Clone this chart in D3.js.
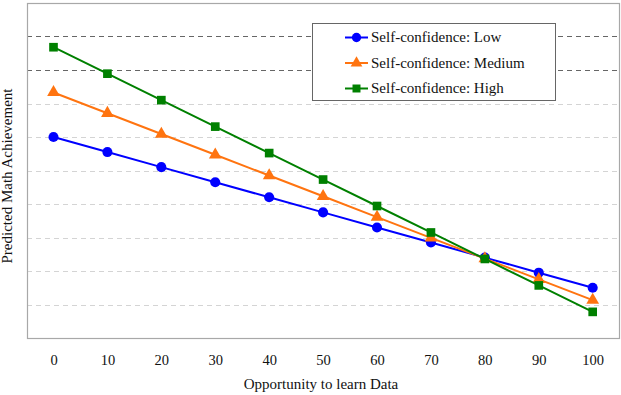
<!DOCTYPE html>
<meta charset="utf-8">
<style>
body { margin: 0; background: #fff; }
</style>
<body>
<script src="https://d3js.org/d3.v7.min.js"></script>
<script>

// data
var xValues = [0, 10, 20, 30, 40, 50, 60, 70, 80, 90, 100];
var lowValues = [60, 55.5, 51, 46.5, 42, 37.5, 33, 28.5, 24, 19.5, 15];
var mediumValues = [73.3, 67.1, 60.9, 54.7, 48.5, 42.3, 36.1, 29.9, 23.7, 17.5, 11.3];
var highValues = [86.8, 78.9, 71.0, 63.1, 55.2, 47.3, 39.4, 31.5, 23.6, 15.7, 7.8];
var seriesNames = ["Self-confidence: Low", "Self-confidence: Medium", "Self-confidence: High"];
var gridValues = [10, 20, 30, 40, 50, 60, 70, 80, 90];

var serif = "Liberation Serif, Tinos, DejaVu Serif, serif";
var width = 621, height = 395;
var box = {left: 27, top: 3, right: 620, bottom: 338};

var svg = d3.select("body").append("svg")
    .attr("width", width)
    .attr("height", height)
    .attr("font-family", serif);

// scales
var x = d3.scaleLinear().domain([0, 100]).range([53.5, 592.7]);
var y = d3.scaleLinear().domain([0, 100]).range([box.bottom, box.top]);

// gridlines (the top two are darker in the original)
svg.append("g").selectAll("line")
    .data(gridValues)
  .enter().append("line")
    .attr("x1", box.left)
    .attr("x2", box.right)
    .attr("y1", function(d) { return Math.round(y(d)) + 0.5; })
    .attr("y2", function(d) { return Math.round(y(d)) + 0.5; })
    .style("stroke", function(d) { return d >= 80 ? "#666" : "#d4d4d4"; })
    .style("stroke-width", 1)
    .style("stroke-dasharray", "5,4");

// plot frame
svg.append("rect")
    .attr("x", box.left + 0.5)
    .attr("y", box.top + 0.5)
    .attr("width", box.right - box.left - 1)
    .attr("height", box.bottom - box.top)
    .style("fill", "none")
    .style("stroke", "#a8a8a8")
    .style("stroke-width", 1.2);

// x axis labels (no axis line, just tick text)
var xAxis = svg.append("g")
    .attr("transform", "translate(0," + (box.bottom + 17) + ")")
    .call(d3.axisBottom(x).tickValues(xValues).tickSize(0).tickPadding(0));
xAxis.attr("font-family", serif).attr("font-size", 14.5);
xAxis.select(".domain").remove();
xAxis.selectAll("text").attr("fill", "#111");

svg.append("text")
    .attr("x", 321)
    .attr("y", 389)
    .attr("text-anchor", "middle")
    .attr("font-size", 15)
    .attr("fill", "#111")
    .text("Opportunity to learn Data");

svg.append("text")
    .attr("transform", "translate(12," + 176 + ") rotate(-90)")
    .attr("text-anchor", "middle")
    .attr("font-size", 15)
    .attr("fill", "#111")
    .text("Predicted Math Achievement");

var series = [
  {name: seriesNames[0], values: lowValues, color: "#0000ff", symbol: d3.symbolCircle, size: 80},
  {name: seriesNames[1], values: mediumValues, color: "#ff7410", symbol: d3.symbolTriangle, size: 70},
  {name: seriesNames[2], values: highValues, color: "#008000", symbol: d3.symbolSquare, size: 75}
];

var line = d3.line()
    .x(function(d, i) { return x(xValues[i]); })
    .y(function(d) { return y(d); });

series.forEach(function(s) {
  var g = svg.append("g");
  g.append("path")
      .datum(s.values)
      .attr("d", line)
      .style("fill", "none")
      .style("stroke", s.color)
      .style("stroke-width", 2);
  g.selectAll("path.pt")
      .data(s.values)
    .enter().append("path")
      .attr("class", "pt")
      .attr("transform", function(d, i) { return "translate(" + x(xValues[i]) + "," + y(d) + ")"; })
      .attr("d", d3.symbol().type(s.symbol).size(s.size))
      .style("fill", s.color);
});

// legend
var legend = svg.append("g");
legend.append("rect")
    .attr("x", 312.5)
    .attr("y", 23.5)
    .attr("width", 243)
    .attr("height", 77)
    .style("fill", "#fff")
    .style("stroke", "#666")
    .style("stroke-width", 1);

series.forEach(function(s, i) {
  var ly = 37.5 + i * 25.5;
  legend.append("line")
      .attr("x1", 345).attr("x2", 368)
      .attr("y1", ly).attr("y2", ly)
      .style("stroke", s.color)
      .style("stroke-width", 2);
  legend.append("path")
      .attr("transform", "translate(356.5," + ly + ")")
      .attr("d", d3.symbol().type(s.symbol).size(s.size * 0.85))
      .style("fill", s.color);
  legend.append("text")
      .attr("x", 371)
      .attr("y", ly + 4.5)
      .attr("font-size", 15)
      .attr("fill", "#111")
      .text(s.name);
});

</script>
</body>
